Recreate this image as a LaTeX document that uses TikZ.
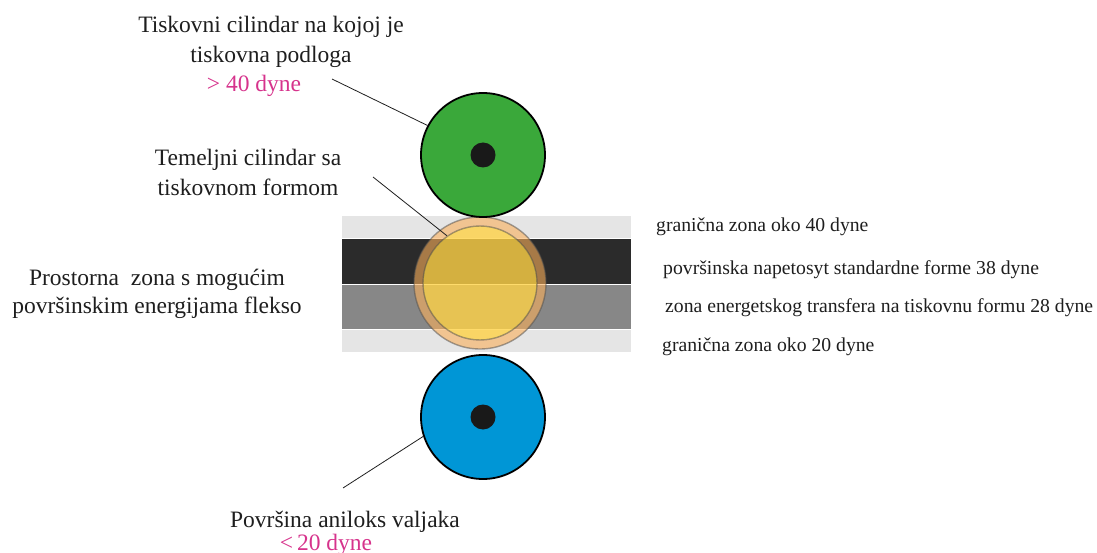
\documentclass[tikz,border=0pt]{standalone}
\usepackage{fontspec}
\setmainfont{Liberation Serif}
\definecolor{zelena}{RGB}{58,168,58}
\definecolor{plava}{RGB}{0,150,214}
\definecolor{magenta}{RGB}{214,51,140}
\definecolor{narancasta}{RGB}{250,175,90}
\definecolor{zuta}{RGB}{255,210,70}
\definecolor{tekst}{RGB}{30,30,30}

\begin{document}
\begin{tikzpicture}[x=1pt,y=-1pt,
    opis/.style={inner sep=0pt, text=tekst, align=center, font=\fontsize{23.5}{30}\selectfont},
    zona/.style={inner sep=0pt, text=tekst, anchor=base west, font=\fontsize{19.7}{24}\selectfont},
    valjak/.style={circle, draw=black, line width=1.8pt, minimum size=124pt, inner sep=0pt},
    osovina/.style={circle, fill=black!90, minimum size=25pt, inner sep=0pt},
    rub/.style={circle, draw=black!70, draw opacity=0.5, line width=1.4pt, inner sep=0pt}]
    \useasboundingbox (0,0) rectangle (1097,553);

    % zone povrsinske energije
    \fill[black!10] (342,216) rectangle (631,238.5);
    \fill[black!83] (342,239) rectangle (631,283.5);
    \fill[black!47] (342,285) rectangle (631,329);
    \fill[black!10] (342,330) rectangle (631,352);

    % temeljni cilindar
    \fill[narancasta, fill opacity=0.6, even odd rule] (480,283) circle[radius=66pt] (480,283) circle[radius=57pt];
    \fill[zuta, fill opacity=0.8] (480,283) circle[radius=57pt];
    \node[rub, minimum size=132pt] (prsten) at (480,283) {};
    \node[rub, minimum size=114pt] (forma) at (480,283) {};

    % valjci
    \node[valjak, fill=zelena] (podloga) at (483,155) {};
    \node[osovina] (os1) at (podloga) {};
    \node[valjak, fill=plava] (anilox) at (483,417) {};
    \node[osovina] (os2) at (anilox) {};

    % opisi (base = zadnji redak)
    \node[opis, anchor=base] (tiskovni) at (271,63) {Tiskovni cilindar na kojoj je\\tiskovna podloga};
    \node[opis, anchor=base, text=magenta] (vise) at (254,92) {> 40 dyne};
    \node[opis, anchor=base] (temeljni) at (248,196) {Temeljni cilindar sa\\tiskovnom formom};
    \node[opis, anchor=base, font=\fontsize{23.5}{28}\selectfont] (prostorna) at (157,313) {Prostorna\ \ zona s mogućim\\površinskim energijama flekso};
    \node[opis, anchor=base] (povrsina) at (345,527) {Površina aniloks valjaka};
    \node[opis, anchor=base, text=magenta] (manje) at (326,550) {<\,20 dyne};

    \node[zona] (granica1) at (656,232) {granična zona oko 40 dyne};
    \node[zona] (napetost) at (663,274) {površinska napetosyt standardne forme 38 dyne};
    \node[zona] (transfer) at (665,312) {zona energetskog transfera na tiskovnu formu 28 dyne};
    \node[zona] (granica2) at (662,351) {granična zona oko 20 dyne};

    % linije
    \coordinate (k1) at (332,79);
    \coordinate (k2) at (373,177);
    \coordinate (k3) at (343,488);
    \draw[tekst, line width=0.8pt] (k1) -- (podloga.152);
    \draw[tekst, line width=0.8pt] (k2) -- (forma.125);
    \draw[tekst, line width=0.8pt] (k3) -- (anilox.198);
\end{tikzpicture}
\end{document}
